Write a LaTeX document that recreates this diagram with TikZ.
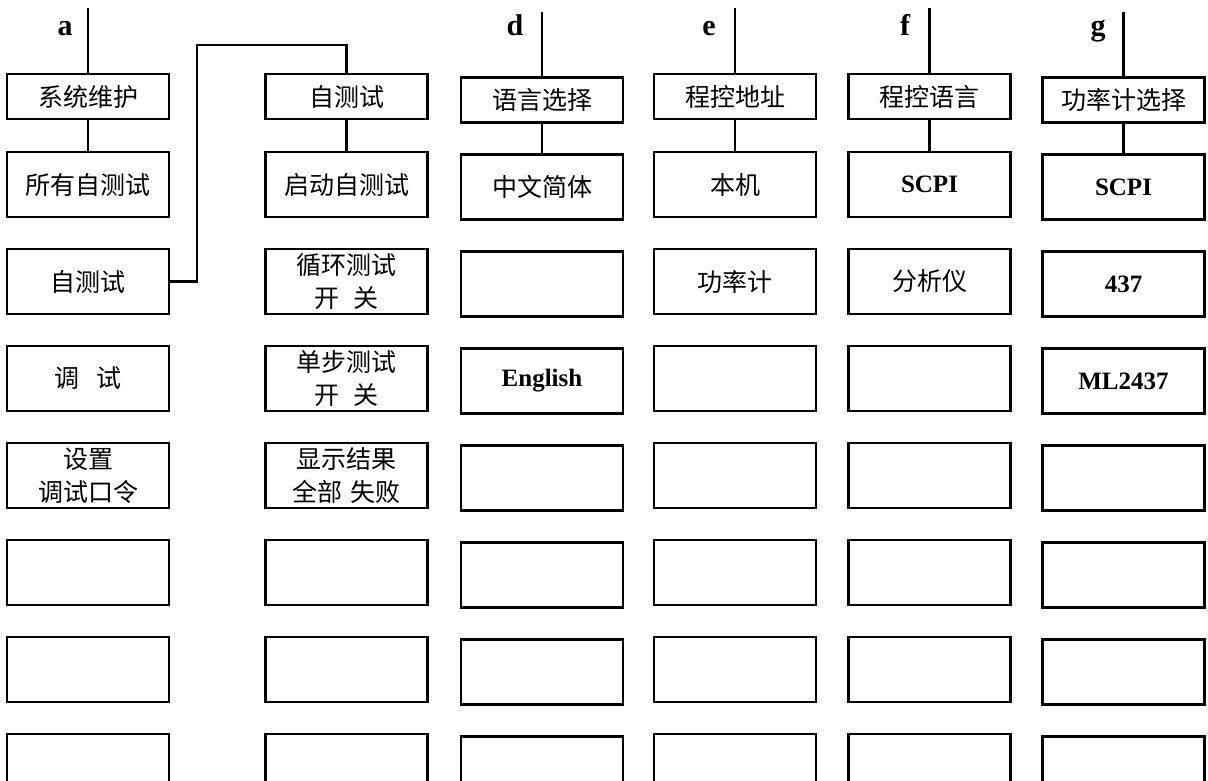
\documentclass[tikz,border=0pt]{standalone}
\usepackage{fontspec}
\usetikzlibrary{calc}
\setmainfont{Liberation Serif}
\newfontfamily\cjk{Noto Sans CJK SC}
\begin{document}
\begin{tikzpicture}[x=1pt,y=-1pt,
  box/.style={draw, line width=2.4pt, minimum width=162pt, minimum height=65pt,
    inner sep=0pt, align=center, font=\cjk\fontsize{25}{33}\selectfont},
  topbox/.style={box, minimum height=45pt},
  lat/.style={font=\bfseries\fontsize{25}{28}\selectfont},
  conn/.style={line width=2.2pt},
  lbl/.style={font=\bfseries\fontsize{30}{30}\selectfont, anchor=base}]
\useasboundingbox (0,0) rectangle (1208,780);
\clip (0,0) rectangle (1208,780);

% column a
\node[topbox] (a1) at (88,96.5) {系统维护};
\node[box] (a2) at (88,184.5) {所有自测试};
\node[box] (a3) at (88,281.5) {自测试};
\node[box] (a4) at (88,378.5) {调\hspace{0.7em}试};
\node[box] (a5) at (88,475.5) {设置\\调试口令};
\node[box] (a6) at (88,572.5) {};
\node[box] (a7) at (88,669.5) {};
\node[box] (a8) at (88,766.5) {};

% column b
\node[topbox] (b1) at (346.5,96.5) {自测试};
\node[box] (b2) at (346.5,184.5) {启动自测试};
\node[box] (b3) at (346.5,281.5) {循环测试\\开\hspace{0.6em}关};
\node[box] (b4) at (346.5,378.5) {单步测试\\开\hspace{0.6em}关};
\node[box] (b5) at (346.5,475.5) {显示结果\\全部\hspace{0.3em}失败};
\node[box] (b6) at (346.5,572.5) {};
\node[box] (b7) at (346.5,669.5) {};
\node[box] (b8) at (346.5,766.5) {};

% column d
\node[topbox] (d1) at (542,100) {语言选择};
\node[box] (d2) at (542,187) {中文简体};
\node[box] (d3) at (542,284) {};
\node[box,lat] (d4) at (542,381) {English};
\node[box] (d5) at (542,478) {};
\node[box] (d6) at (542,575) {};
\node[box] (d7) at (542,672) {};
\node[box] (d8) at (542,769) {};

% column e
\node[topbox] (e1) at (735,96.5) {程控地址};
\node[box] (e2) at (735,184.5) {本机};
\node[box] (e3) at (735,281.5) {功率计};
\node[box] (e4) at (735,378.5) {};
\node[box] (e5) at (735,475.5) {};
\node[box] (e6) at (735,572.5) {};
\node[box] (e7) at (735,669.5) {};
\node[box] (e8) at (735,766.5) {};

% column f
\node[topbox] (f1) at (929.5,96.5) {程控语言};
\node[box,lat] (f2) at (929.5,184.5) {SCPI};
\node[box] (f3) at (929.5,281.5) {分析仪};
\node[box] (f4) at (929.5,378.5) {};
\node[box] (f5) at (929.5,475.5) {};
\node[box] (f6) at (929.5,572.5) {};
\node[box] (f7) at (929.5,669.5) {};
\node[box] (f8) at (929.5,766.5) {};

% column g
\node[topbox] (g1) at (1123.5,100) {功率计选择};
\node[box,lat] (g2) at (1123.5,187) {SCPI};
\node[box,lat] (g3) at (1123.5,284) {437};
\node[box,lat] (g4) at (1123.5,381) {ML2437};
\node[box] (g5) at (1123.5,478) {};
\node[box] (g6) at (1123.5,575) {};
\node[box] (g7) at (1123.5,672) {};
\node[box] (g8) at (1123.5,769) {};

% labels and top lines
\coordinate (ta) at (88,8);
\coordinate (td) at (542,12);
\coordinate (te) at (735,8);
\coordinate (tf) at (929.5,8);
\coordinate (tg) at (1123.5,12);
\node[lbl] (la) at (65,35) {a};
\node[lbl] (ld) at (515,35) {d};
\node[lbl] (le) at (709,35) {e};
\node[lbl] (lf) at (905,35) {f};
\node[lbl] (lg) at (1098,35) {g};

\foreach \c in {a,d,e,f,g}{
  \draw[conn] (t\c) -- (\c1.north);
}
\foreach \c in {a,b,d,e,f,g}{
  \draw[conn] (\c1.south) -- (\c2.north);
}
\draw[conn] (a3.east) -- ++(27,0) |- ($(b1.north)+(0,-28)$) -- (b1.north);
\end{tikzpicture}
\end{document}
